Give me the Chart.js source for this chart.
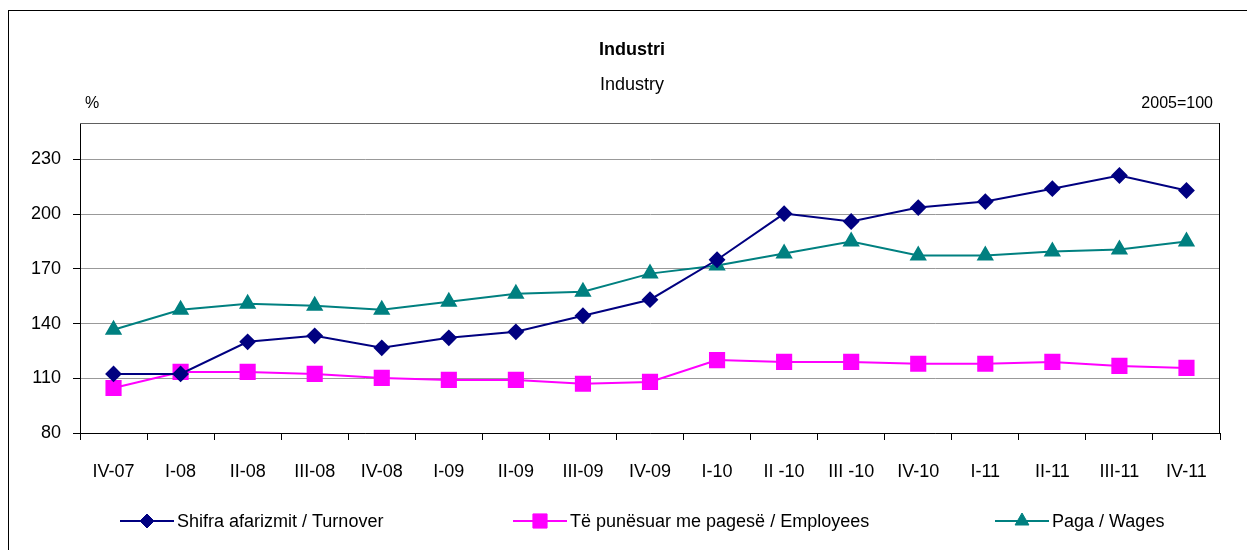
<!DOCTYPE html>
<html>
<head>
<meta charset="utf-8">
<script src="https://cdn.jsdelivr.net/npm/chart.js@4"></script>
<style>
  html, body { margin: 0; padding: 0; background: #fff; }
  #wrap { width: 1247px; height: 550px; position: relative; }
</style>
</head>
<body>
<div id="wrap"><canvas id="myChart" width="1247" height="550"></canvas></div>
<script>
const quarters = ["IV-07", "I-08", "II-08", "III-08", "IV-08", "I-09", "II-09", "III-09", "IV-09",
  "I-10", "II -10", "III -10", "IV-10", "I-11", "II-11", "III-11", "IV-11"];
const turnover = [112.4, 112.4, 130, 133.3, 126.7, 132.2, 135.5, 144.3, 153.1,
  175, 200.3, 196, 203.6, 206.9, 214, 221.2, 213];
const employees = [104.7, 113.5, 113.5, 112.4, 110.2, 109.1, 109.1, 107, 108,
  120, 119, 119, 118, 118, 119, 116.8, 115.7];
const wages = [136.6, 147.6, 150.9, 149.8, 147.6, 152, 156.4, 157.5, 167.4,
  171.8, 178.4, 185, 177.3, 177.3, 179.5, 180.6, 185];
const yTicks = [80, 110, 140, 170, 200, 230];

const fontName = "'Liberation Sans', Arial, sans-serif";
Chart.defaults.font.family = fontName;
Chart.defaults.color = "#000";

// titles, frame and legend drawn by hand
const decor = {
  id: "decor",
  afterDraw(chart) {
    const ctx = chart.ctx;
    const area = chart.chartArea;
    ctx.save();
    ctx.strokeStyle = "#000";
    ctx.lineWidth = 1;
    ctx.strokeRect(8.5, 10.5, 1300, 600);
    ctx.strokeStyle = "#606060";
    ctx.beginPath();
    ctx.moveTo(area.left, area.top + 0.5);
    ctx.lineTo(area.right, area.top + 0.5);
    ctx.stroke();
    ctx.strokeStyle = "#000";
    ctx.beginPath();
    ctx.moveTo(area.right - 0.5, area.top);
    ctx.lineTo(area.right - 0.5, area.bottom);
    ctx.stroke();

    ctx.fillStyle = "#000";
    ctx.textBaseline = "middle";
    ctx.textAlign = "center";
    ctx.font = "bold 18px " + fontName;
    ctx.fillText("Industri", 632, 50);
    ctx.font = "18px " + fontName;
    ctx.fillText("Industry", 632, 85);
    ctx.font = "16px " + fontName;
    ctx.textAlign = "left";
    ctx.fillText("%", 85, 104);
    ctx.textAlign = "right";
    ctx.fillText("2005=100", 1213, 104);

    const starts = [120, 513, 995];
    chart.data.datasets.forEach(function(ds, i) {
      const x = starts[i], y = 521;
      ctx.strokeStyle = ds.borderColor;
      ctx.lineWidth = 2;
      ctx.beginPath();
      ctx.moveTo(x, y);
      ctx.lineTo(x + 54, y);
      ctx.stroke();
      ctx.fillStyle = ds.backgroundColor;
      ctx.strokeStyle = ds.borderColor;
      ctx.lineWidth = 1;
      Chart.helpers.drawPoint(ctx, { pointStyle: ds.pointStyle, radius: ds.pointRadius, borderWidth: 1 }, x + 27, y);
      ctx.fillStyle = "#000";
      ctx.textAlign = "left";
      ctx.font = "18px " + fontName;
      ctx.fillText(ds.label, x + 57, y + 1);
    });
    ctx.restore();
  }
};

new Chart(document.getElementById("myChart"), {
  type: "line",
  data: {
    labels: quarters,
    datasets: [
      {
        label: "Shifra afarizmit / Turnover",
        data: turnover,
        borderColor: "#000080",
        backgroundColor: "#000080",
        borderWidth: 2,
        pointStyle: "rectRot",
        pointRadius: 7,
        tension: 0
      },
      {
        label: "Të punësuar me pagesë / Employees",
        data: employees,
        borderColor: "#FF00FF",
        backgroundColor: "#FF00FF",
        borderWidth: 2,
        pointStyle: "rect",
        pointRadius: 10,
        tension: 0
      },
      {
        label: "Paga / Wages",
        data: wages,
        borderColor: "#008080",
        backgroundColor: "#008080",
        borderWidth: 2,
        pointStyle: "triangle",
        pointRadius: 8,
        tension: 0
      }
    ]
  },
  options: {
    responsive: false,
    animation: false,
    layout: { padding: { left: 0, right: 27, top: 123, bottom: 0 } },
    plugins: {
      legend: { display: false },
      tooltip: { enabled: false }
    },
    scales: {
      x: {
        offset: true,
        afterFit: function(scale) { scale.height = 117; },
        grid: { offset: true, drawOnChartArea: false, drawTicks: true, tickLength: 7, color: "#000" },
        border: { color: "#000" },
        ticks: { padding: 21, font: { size: 18 }, maxRotation: 0, autoSkip: false }
      },
      y: {
        min: 80,
        max: 250,
        afterFit: function(scale) { scale.width = 80; },
        afterBuildTicks: function(scale) {
          scale.ticks = yTicks.concat([250]).map(function(v) { return { value: v }; });
        },
        grid: {
          color: function(c) { return c.tick && c.tick.value === 250 ? "rgba(0,0,0,0)" : "#999"; },
          tickColor: function(c) { return c.tick && c.tick.value === 250 ? "rgba(0,0,0,0)" : "#000"; },
          tickLength: 7
        },
        border: { color: "#000" },
        ticks: {
          padding: 12,
          font: { size: 18 },
          callback: function(v) { return yTicks.includes(v) ? v : ""; }
        }
      }
    }
  },
  plugins: [decor]
});
</script>
</body>
</html>
